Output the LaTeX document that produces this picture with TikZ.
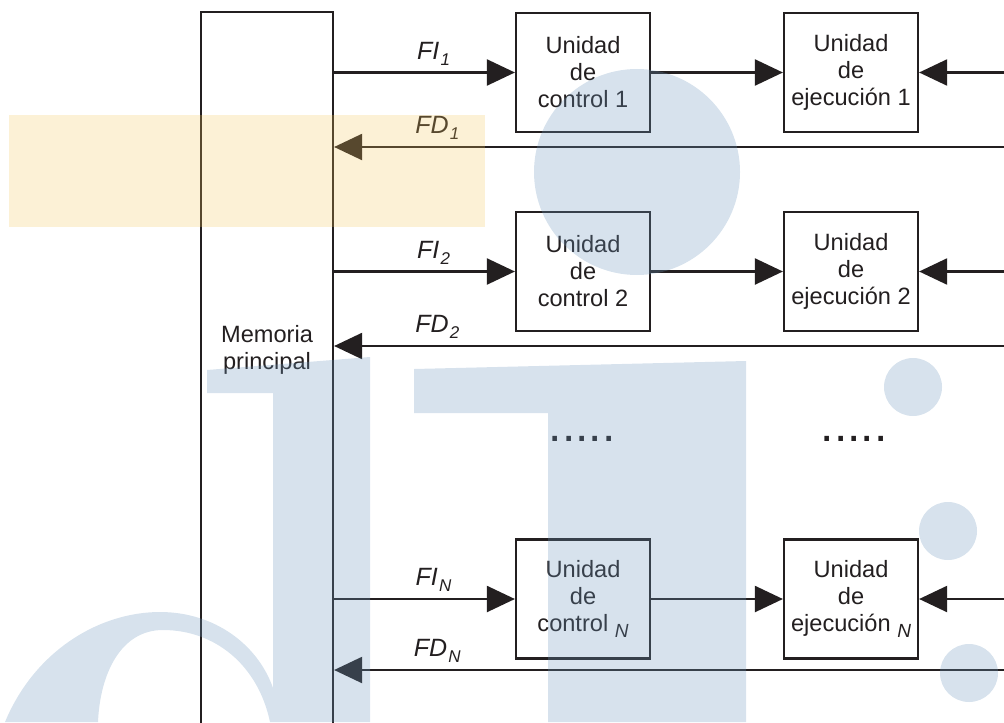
\documentclass[tikz,border=0pt]{standalone}
\usepackage{fontspec}
\setmainfont{Liberation Sans}
\usetikzlibrary{arrows.meta,positioning}

\definecolor{ink}{HTML}{231F20}
\definecolor{wmblue}{HTML}{6E96BD}
\definecolor{wmorange}{HTML}{F5C65A}

% etiqueta de flujo: FI_k, FD_k
\newcommand{\flujo}[2]{\textit{#1\kern0.6pt\raisebox{-0.45ex}{\fontsize{8.5}{8.5}\selectfont #2}}}
\newcommand{\subN}{\raisebox{-0.45ex}{\fontsize{9.5}{9.5}\selectfont\textit{N}}}

\begin{document}
\begin{tikzpicture}[x=0.5pt,y={(0pt,-0.5pt)},
    >={Triangle[length=14pt,width=13pt]},
    unidad/.style={draw=ink, line width=1.1pt, minimum width=67pt, minimum height=59.5pt,
      inner sep=0pt, align=center, text=ink, font=\fontsize{11.8}{13.5}\selectfont},
    membox/.style={draw=ink, line width=1.1pt, minimum width=66pt, minimum height=370pt},
    flujo/.style={->, draw=ink, line width=1.1pt},
    etiq/.style={inner sep=0pt, text=ink, font=\fontsize{12.5}{12.5}\selectfont}]
    \useasboundingbox (0,0) rectangle (1004,722);
    \clip (0,0) rectangle (1004,722);

    % memoria principal (abierta por abajo)
    \node[membox] (mem) at (267,382) {};
    \node[unidad, draw=none, minimum width=0pt, minimum height=0pt] (memtxt) at (267,350) {Memoria\\principal};

    \foreach \r/\yc/\yd/\k in {1/72.5/147/1, 2/271.5/346/2, N/599/670/\subN} {
        \node[unidad] (ctl\r) at (583,\yc) {Unidad\\de\\control \k};
        \node[unidad] (exe\r) at (851,\yc) {Unidad\\de\\ejecución \k};
        \coordinate (din\r) at (1004,\yc);
        \coordinate (fd\r) at (1004,\yd);
        \draw[flujo] (mem.east |- ctl\r) -- (ctl\r.west)
            node[etiq, above=3pt, pos=.55] (fi\r) {\flujo{FI}{\r}};
        \draw[flujo] (ctl\r.east) -- (exe\r.west);
        \draw[flujo] (din\r) -- (exe\r.east);
        \draw[flujo] (fd\r) -- (mem.east |- fd\r)
            node[etiq, above=3pt, pos=.846] (fdl\r) {\flujo{FD}{\r}};
    }

    % puntos suspensivos
    \node[etiq, anchor=base, font=\fontsize{24}{24}\selectfont] (dotsctl) at (582,441) {.....};
    \node[etiq, anchor=base, font=\fontsize{24}{24}\selectfont] (dotsexe) at (854,441) {.....};

    % marca de agua
    \fill[wmblue, fill opacity=0.28]
        (637,172) circle[radius=103]
        (913,387) circle[radius=29]
        (948,531) circle[radius=29]
        (969,673) circle[radius=29]
        (207,370) -- (370,357) -- (370,722) -- (273,722) -- (273,393) -- (207,393) -- cycle
        (414,369) -- (746,361) -- (746,722) -- (548,722) -- (548,413) -- (414,413) -- cycle
        (5,722) .. controls (35,650) and (100,612) .. (160,612)
            .. controls (215,612) and (258,645) .. (273,688) -- (273,722) -- (270,722)
            .. controls (258,665) and (215,630) .. (163,630)
            .. controls (120,630) and (100,675) .. (98,722) -- cycle;
    \fill[wmorange, fill opacity=0.25] (9,115) rectangle (485,227);
\end{tikzpicture}
\end{document}
